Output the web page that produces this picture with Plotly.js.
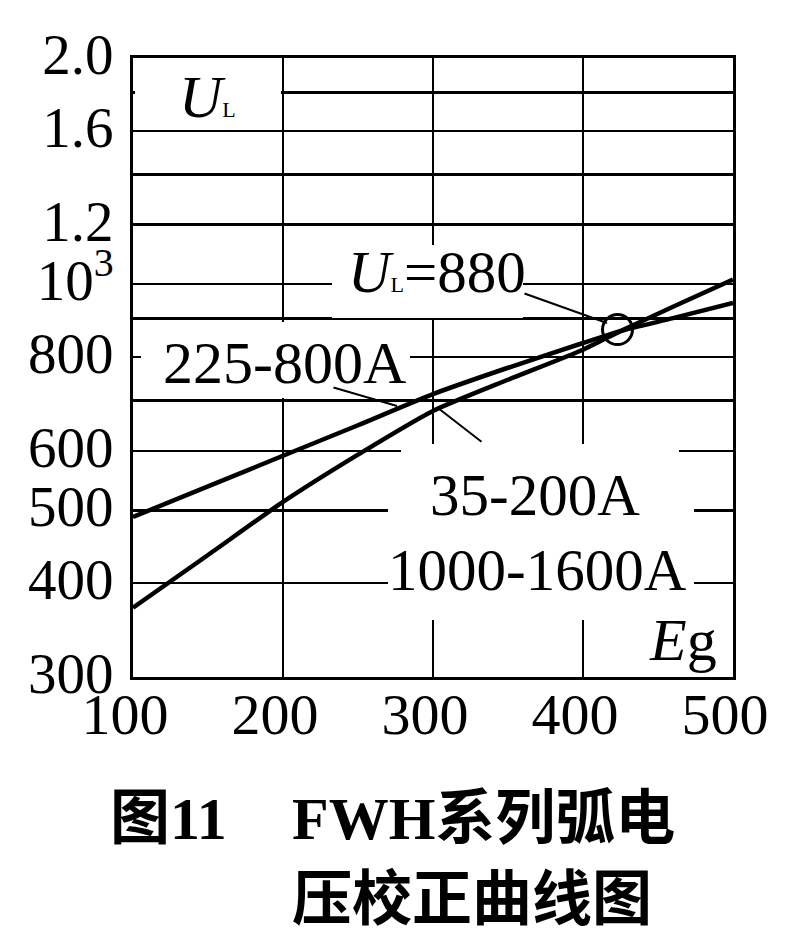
<!DOCTYPE html>
<html>
<head>
<meta charset="utf-8">
<script src="https://cdn.plot.ly/plotly-3.0.1.min.js"></script>
<style>html,body{margin:0;padding:0;background:#fff;}#chart{width:787px;height:936px;}</style>
</head>
<body>
<div id="chart"></div>
<script>
// ---- data ----
const egA = [100, 150, 200, 250, 300, 350, 400, 425, 460, 500];      // 225-800A
const ulA = [490, 538, 591, 649, 714, 774, 835, 866, 901, 944];
const egB = [100, 150, 200, 250, 300, 350, 400, 425, 460, 500];      // 35-200A
const ulB = [371, 436, 513, 593, 678, 746, 818, 866, 933, 1014];
const crossEg = [423];
const crossUl = [870];
const xTicks = [100, 200, 300, 400, 500];
const xTickText = ['100', '200', '300', '400', '500'];
const yTicks = [300, 400, 500, 600, 700, 800, 900, 1000, 1200, 1400, 1600, 1800, 2000];
const yTickText = ['300', '400', '500', '600', ' ', '800', ' ', '10<sup>3</sup>', '1.2', ' ', '1.6', ' ', '2.0'];

// ---- layout helpers (pixel -> paper) ----
const L = 133, R = 733, T = 58, B = 677;
const px = v => (v - L) / (R - L);
const py = v => (B - v) / (B - T);
const serif = 'Liberation Serif, Times New Roman, serif';
const cjk = 'Noto Sans CJK SC, sans-serif';

// white panel that clears the grid behind a label (drawn as an annotation box)
function clearBox(x0, y0, x1, y1) {
  return {xref: 'paper', yref: 'paper', x: px((x0 + x1) / 2), y: py((y0 + y1) / 2),
    xanchor: 'center', yanchor: 'middle', text: ' ', showarrow: false,
    width: x1 - x0, height: y1 - y0, bgcolor: '#ffffff', borderpad: 0, borderwidth: 0,
    font: {size: 1, color: '#ffffff'}};
}
// leader line: from tail (x0,y0) to tip (x1,y1), pixels
function leader(x0, y0, x1, y1) {
  return {xref: 'paper', yref: 'paper', x: px(x1), y: py(y1), ax: x0 - x1, ay: y0 - y1,
    text: ' ', font: {size: 1, color: '#fff'}, showarrow: true, arrowhead: 0,
    arrowwidth: 2, arrowcolor: '#000', standoff: 0, startstandoff: 0};
}
function label(text, x, y, size, opts) {
  return Object.assign({xref: 'paper', yref: 'paper', x: px(x), y: py(y), text: text,
    showarrow: false, xanchor: 'center', yanchor: 'middle',
    font: {family: serif, size: size, color: '#000'}}, opts || {});
}

const traces = [
  {x: egA, y: ulA, mode: 'lines', name: '225-800A', line: {color: '#000', width: 4.5, shape: 'spline', smoothing: 0.6}},
  {x: egB, y: ulB, mode: 'lines', name: '35-200A', line: {color: '#000', width: 4.5, shape: 'spline', smoothing: 0.6}},
  {x: crossEg, y: crossUl, mode: 'markers', name: 'UL=880',
    marker: {symbol: 'circle-open', size: 30, color: '#000', line: {width: 3, color: '#000'}}}
];

const layout = {
  width: 787, height: 936,
  margin: {l: L, r: 787 - R, t: T, b: 936 - B},
  paper_bgcolor: '#fff', plot_bgcolor: '#fff',
  showlegend: false,
  font: {family: serif, color: '#000'},
  xaxis: {
    range: [100, 500], tickvals: xTicks, ticktext: xTickText,
    showgrid: true, gridcolor: '#000', gridwidth: 2.5,
    showline: true, mirror: true, linecolor: '#000', linewidth: 3,
    ticks: '', ticklen: 0, ticklabelstandoff: -16, ticklabelshift: -8,
    tickfont: {family: serif, size: 58, color: '#000'}, zeroline: false
  },
  yaxis: {
    type: 'log', range: [Math.log10(300), Math.log10(2000)],
    tickvals: yTicks, ticktext: yTickText,
    showgrid: true, gridcolor: '#000', gridwidth: 2.5,
    showline: true, mirror: true, linecolor: '#000', linewidth: 3,
    ticks: '', ticklen: 0, ticklabelstandoff: 5, ticklabelshift: -4,
    tickfont: {family: serif, size: 57, color: '#000'}, zeroline: false
  },
  annotations: [
    clearBox(135, 86, 281, 111),
    clearBox(332, 245, 523, 318),
    clearBox(141, 322, 410, 398),
    clearBox(401, 444, 679, 620),
    clearBox(388, 458, 694, 620),
    leader(332, 387, 397, 406),
    leader(483, 443, 438, 408),
    leader(523, 293, 607, 323),
    label('<i>U</i><span style="font-size:22px">L</span>', 207, 97, 60),
    label('<i>U</i><span style="font-size:22px">L</span>=880', 437, 272, 59),
    label('225-800A', 284, 363, 60),
    label('35-200A', 535, 495, 59),
    label('1000-1600A', 537, 570, 59),
    label('<i>E</i>g', 683, 640, 60),
    label('<b>图</b><b><span style="font-family:Liberation Serif">11</span></b>', 108, 812, 60,
      {xanchor: 'left', font: {family: cjk, size: 60, color: '#000', weight: 'bold'}}),
    label('<b><span style="font-family:Liberation Serif">FWH</span>系列弧电</b>', 290, 812, 60,
      {xanchor: 'left', font: {family: cjk, size: 60, color: '#000', weight: 'bold'}}),
    label('<b>压校正曲线图</b>', 290, 893, 60,
      {xanchor: 'left', font: {family: cjk, size: 60, color: '#000', weight: 'bold'}})
  ]
};

Plotly.newPlot('chart', traces, layout, {staticPlot: true});
</script>
</body>
</html>
